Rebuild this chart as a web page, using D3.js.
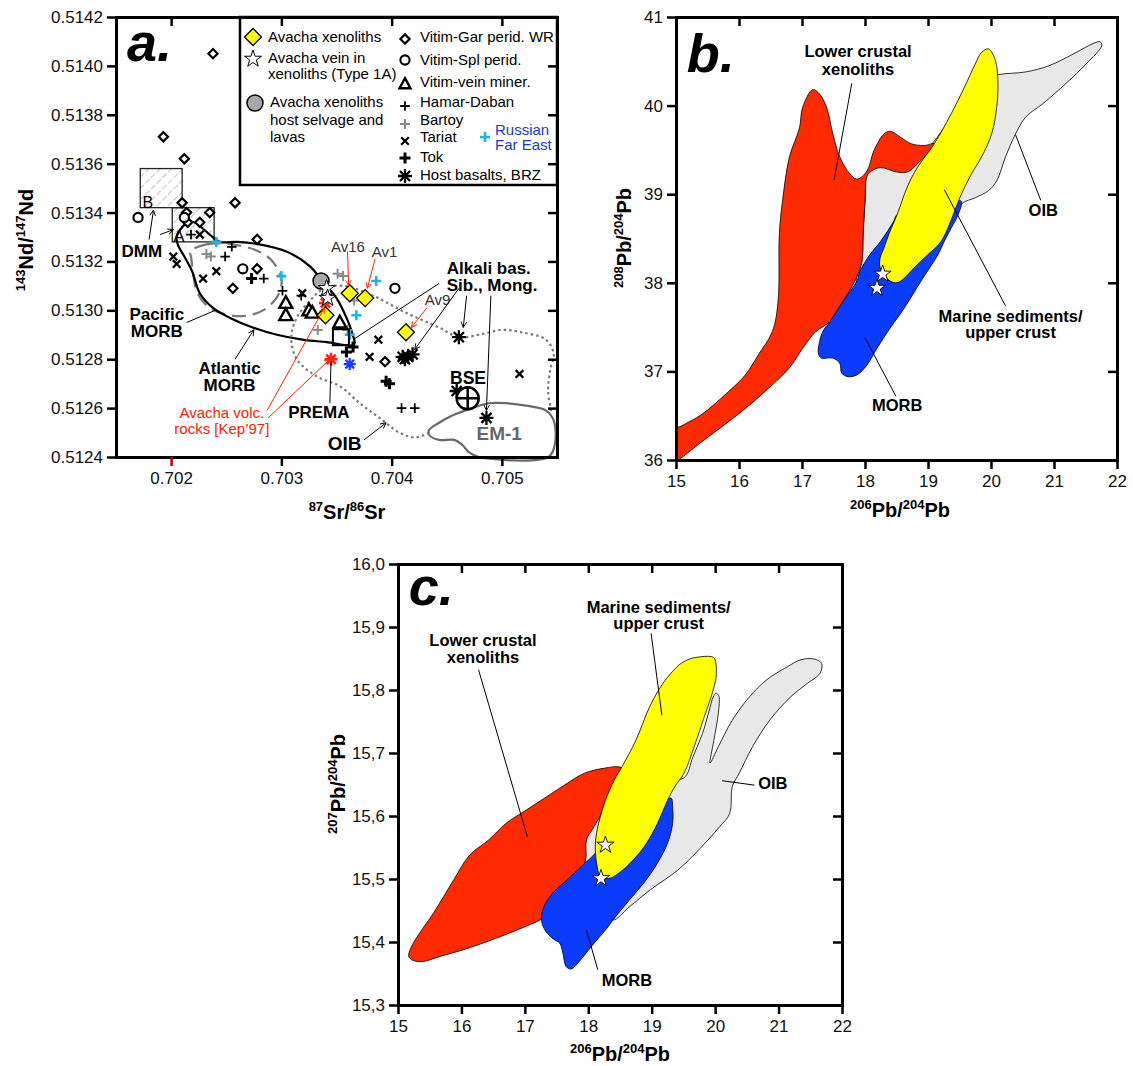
<!DOCTYPE html>
<html><head><meta charset="utf-8">
<script src="https://cdn.jsdelivr.net/npm/d3@7"></script>
<style>body{margin:0;background:#fff}</style>
</head><body><script>
// ---------------- DATA ----------------
const srTicks = [0.702, 0.703, 0.704, 0.705];
const ndTicks = [0.5124, 0.5126, 0.5128, 0.5130, 0.5132, 0.5134, 0.5136, 0.5138, 0.5140, 0.5142];
const pb206Ticks = [15, 16, 17, 18, 19, 20, 21, 22];
const pb208Ticks = [36, 37, 38, 39, 40, 41];
const pb207Ticks = [15.3, 15.4, 15.5, 15.6, 15.7, 15.8, 15.9, 16.0];

// panel a: [87Sr/86Sr, 143Nd/147Nd]
const vitimGar = [[0.70238,0.51405],[0.70193,0.51371],[0.70212,0.51362],[0.70210,0.51344],[0.70258,0.51344],[0.70214,0.51340],[0.70235,0.51340],[0.70226,0.51336],[0.70215,0.51336],[0.70278,0.51329],[0.70278,0.51317],[0.70256,0.51309],[0.70394,0.51279]];
const vitimSpl = [[0.70170,0.51338],[0.70212,0.51338],[0.70265,0.51317],[0.70403,0.51309]];
const vitimVein = [[0.70304,0.51303],[0.70304,0.51298],[0.70325,0.51300],[0.70328,0.51299],[0.70353,0.51295]];
const hamarDaban = [[0.70218,0.51331],[0.70255,0.51326],[0.70249,0.51322],[0.70284,0.51313],[0.70301,0.51308],[0.70318,0.51306],[0.70409,0.51260],[0.70421,0.51260]];
const bartoy = [[0.70232,0.51323],[0.70236,0.51322],[0.70351,0.51315],[0.70356,0.51314],[0.70333,0.51292],[0.70366,0.51304],[0.70360,0.51292]];
const tariat = [[0.70226,0.51331],[0.70202,0.51322],[0.70205,0.51319],[0.70229,0.51313],[0.70241,0.51316],[0.70319,0.51307],[0.70388,0.51288],[0.70380,0.51281],[0.70516,0.51274]];
const tok = [[0.70273,0.51313],[0.70359,0.51283],[0.70365,0.51285],[0.70395,0.51271],[0.70398,0.51270]];
const hostBRZ = [[0.70410,0.51281],[0.70415,0.51281],[0.70419,0.51282],[0.70412,0.51280],[0.70461,0.51289],[0.70459,0.51267],[0.70486,0.51256]];
const farEast = [[0.70241,0.51328],[0.70300,0.51314],[0.70386,0.51312],[0.70368,0.51298],[0.70362,0.51290]];
const farEastAster = [[0.70362,0.51278]];
const avachaXen = [[0.70362,0.51307],[0.70376,0.51305],[0.70340,0.51298],[0.70413,0.51291]];
const avachaHost = [[0.70336,0.51312]];
const avachaVein = [[0.70341,0.51309],[0.70342,0.51305]];
const avachaVolc = [[0.70340,0.51303],[0.70345,0.51280]];
const bsePoint = [[0.70469,0.51264]];
const premaBox = [[0.70354,0.51289]];
const boxA = [[0.70201,0.51328],[0.70239,0.51342]];
const boxB = [[0.70172,0.51342],[0.70210,0.51358]];

const atlanticMORB = [[0.70215,0.51336],[0.70221,0.51336],[0.70235,0.51331],[0.70244,0.51328],[0.70260,0.51328],[0.70280,0.51327],[0.70305,0.51324],[0.70326,0.51318],[0.70337,0.51312],[0.70350,0.51305],[0.70359,0.51297],[0.70364,0.51291],[0.70366,0.51286],[0.70341,0.51287],[0.70319,0.51288],[0.70296,0.51290],[0.70274,0.51293],[0.70253,0.51297],[0.70238,0.51301],[0.70226,0.51307],[0.70219,0.51316],[0.70212,0.51322],[0.70206,0.51327],[0.70205,0.51330],[0.70210,0.51334]];
const pacificMORB = [[0.70217,0.51324],[0.70232,0.51327],[0.70256,0.51327],[0.70280,0.51324],[0.70292,0.51320],[0.70300,0.51313],[0.70298,0.51307],[0.70287,0.51301],[0.70271,0.51298],[0.70253,0.51298],[0.70235,0.51301],[0.70224,0.51307],[0.70220,0.51315],[0.70218,0.51322]];
const oibField = [[0.70434,0.51250],[0.70422,0.51248],[0.70407,0.51250],[0.70389,0.51256],[0.70371,0.51262],[0.70353,0.51269],[0.70332,0.51273],[0.70314,0.51280],[0.70309,0.51289],[0.70314,0.51297],[0.70326,0.51304],[0.70339,0.51309],[0.70357,0.51310],[0.70383,0.51306],[0.70413,0.51299],[0.70443,0.51293],[0.70461,0.51289],[0.70479,0.51290],[0.70500,0.51292],[0.70518,0.51291],[0.70540,0.51288],[0.70547,0.51282],[0.70544,0.51276],[0.70542,0.51267],[0.70545,0.51258]];
const em1Field = [[0.70434,0.51251],[0.70443,0.51254],[0.70455,0.51257],[0.70473,0.51260],[0.70488,0.51262],[0.70504,0.51262],[0.70522,0.51261],[0.70540,0.51259],[0.70547,0.51255],[0.70548,0.51245],[0.70542,0.51240],[0.70479,0.51240],[0.70470,0.51242],[0.70464,0.51245],[0.70457,0.51247],[0.70443,0.51247],[0.70434,0.51249]];

// panel b: [206Pb/204Pb, 208Pb/204Pb]
const oibB = [[18.03,39.23],[18.24,39.32],[18.51,39.3],[18.67,39.3],[18.83,39.4],[19.1,39.6],[19.5,40.0],[19.9,40.3],[20.12,40.35],[20.55,40.38],[20.92,40.45],[21.3,40.58],[21.62,40.7],[21.73,40.72],[21.76,40.68],[21.51,40.47],[21.19,40.25],[20.82,40.02],[20.55,39.87],[20.39,39.68],[20.23,39.42],[20.09,39.15],[19.96,39.04],[19.75,38.96],[19.53,38.89],[19.0,38.4],[18.3,37.9],[17.87,38.0],[17.95,38.24],[17.97,38.55],[18.0,38.92]];
const crustB = [[17.17,40.18],[17.28,40.13],[17.39,39.98],[17.49,39.68],[17.6,39.42],[17.76,39.23],[17.87,39.17],[18.03,39.26],[18.14,39.49],[18.3,39.68],[18.4,39.71],[18.57,39.64],[18.73,39.57],[18.94,39.55],[19.1,39.57],[18.83,39.34],[18.67,39.25],[18.51,39.25],[18.24,39.3],[18.08,39.25],[18.03,39.2],[18.0,38.92],[17.97,38.55],[17.95,38.24],[17.84,38.02],[17.65,37.79],[17.44,37.56],[17.22,37.45],[17.01,37.26],[16.8,37.04],[16.47,36.81],[16.1,36.58],[15.83,36.43],[15.4,36.2],[15.08,36.02],[14.95,35.95],[14.95,36.32],[15.13,36.4],[15.4,36.51],[15.83,36.77],[16.1,36.96],[16.31,37.19],[16.53,37.45],[16.62,37.79],[16.64,38.55],[16.69,38.92],[16.8,39.42],[16.96,39.75],[17.01,39.98]];
const morbB = [[17.28,37.34],[17.33,37.45],[17.44,37.56],[17.65,37.79],[17.87,38.02],[17.92,38.13],[18.08,38.32],[18.25,38.47],[18.46,38.7],[18.51,38.77],[19.0,38.9],[19.45,38.93],[19.53,38.92],[19.48,38.77],[19.37,38.62],[19.26,38.47],[19.16,38.32],[18.89,38.02],[18.62,37.71],[18.4,37.49],[18.19,37.26],[18.03,37.07],[17.87,36.96],[17.73,36.94],[17.63,36.98],[17.6,37.09],[17.49,37.15],[17.31,37.15],[17.26,37.2]];
const sedB = [[19.96,40.64],[20.07,40.51],[20.11,40.25],[20.09,39.98],[20.01,39.68],[19.85,39.42],[19.69,39.23],[19.53,39.0],[19.21,38.47],[19.0,38.32],[18.78,38.17],[18.62,38.05],[18.51,38.0],[18.4,38.02],[18.32,38.07],[18.24,38.17],[18.24,38.28],[18.3,38.39],[18.38,38.55],[18.51,38.77],[18.67,39.08],[18.83,39.3],[19.1,39.57],[19.37,39.91],[19.58,40.21],[19.75,40.47],[19.85,40.6]];
const veinB = [[18.28,38.1],[18.19,37.94]];

// panel c: [206Pb/204Pb, 207Pb/204Pb]
const oibC = [[17.95,15.53],[17.97,15.565],[18.1,15.59],[18.3,15.63],[18.9,15.66],[19.5,15.66],[19.65,15.694],[19.8,15.731],[19.9,15.765],[19.97,15.789],[20.02,15.795],[20.06,15.79],[20.05,15.763],[19.98,15.72],[19.92,15.684],[20.05,15.71],[20.27,15.752],[20.54,15.789],[20.81,15.816],[21.14,15.837],[21.35,15.848],[21.57,15.849],[21.68,15.842],[21.65,15.826],[21.46,15.811],[21.19,15.789],[20.86,15.752],[20.59,15.71],[20.38,15.668],[20.27,15.647],[20.23,15.604],[20.07,15.583],[19.74,15.546],[19.41,15.514],[18.98,15.483],[18.65,15.456],[18.38,15.435],[18.1,15.47]];
const crustC = [[15.17,15.377],[15.2,15.39],[15.34,15.414],[15.56,15.446],[15.88,15.499],[16.13,15.538],[16.43,15.562],[16.7,15.588],[17.03,15.61],[17.35,15.631],[17.67,15.652],[17.94,15.668],[18.26,15.676],[18.48,15.678],[18.6,15.672],[18.41,15.64],[18.19,15.6],[18.06,15.578],[17.97,15.562],[17.95,15.527],[17.7,15.49],[17.3,15.44],[17.24,15.435],[17.02,15.425],[16.47,15.403],[16.04,15.388],[15.66,15.377],[15.39,15.369],[15.23,15.371]];
const morbC = [[19.31,15.628],[19.33,15.615],[19.33,15.588],[19.25,15.557],[19.09,15.525],[18.87,15.493],[18.65,15.467],[18.43,15.44],[18.27,15.419],[18.05,15.393],[17.84,15.367],[17.73,15.357],[17.65,15.361],[17.6,15.382],[17.55,15.398],[17.46,15.404],[17.35,15.414],[17.27,15.43],[17.27,15.446],[17.33,15.462],[17.46,15.48],[17.67,15.499],[17.89,15.52],[18.11,15.541],[18.16,15.551],[18.38,15.578],[18.92,15.615],[19.25,15.628]];
const sedC = [[19.46,15.842],[19.62,15.85],[19.94,15.853],[19.99,15.85],[20.02,15.826],[19.97,15.8],[19.83,15.758],[19.67,15.71],[19.51,15.668],[19.36,15.646],[19.25,15.625],[19.09,15.588],[18.92,15.557],[18.76,15.536],[18.54,15.514],[18.33,15.501],[18.19,15.504],[18.14,15.52],[18.11,15.551],[18.14,15.578],[18.19,15.599],[18.27,15.625],[18.41,15.657],[18.53,15.678],[18.75,15.72],[18.97,15.774],[19.18,15.811],[19.4,15.837]];
const veinC = [[18.27,15.554],[18.2,15.501]];

// annotations (data units)
const labelsA = [
  {t:["B"], x:0.70174, y:0.51342, a:"start", s:16, w:"normal"},
  {t:["A"], x:0.70202, y:0.51328, a:"start", s:17, w:"normal"},
  {t:["DMM"], x:0.70155, y:0.51322, a:"start", s:17, w:"bold"},
  {t:["Pacific","MORB"], x:0.70187, y:0.51296, a:"middle", s:17, w:"bold", lh:17},
  {t:["Atlantic","MORB"], x:0.70253, y:0.51274, a:"middle", s:17, w:"bold", lh:17},
  {t:["Avacha volc.","rocks [Kep\u201997]"], x:0.70246, y:0.51256, a:"middle", s:15, w:"normal", c:"#ff2200", lh:16},
  {t:["PREMA"], x:0.70334, y:0.51256, a:"middle", s:17, w:"bold"},
  {t:["OIB"], x:0.70342, y:0.51243, a:"start", s:19, w:"bold"},
  {t:["Av16"], x:0.70345, y:0.51324, a:"start", s:15, w:"normal", c:"#333"},
  {t:["Av1"], x:0.70382, y:0.51322, a:"start", s:15, w:"normal", c:"#333"},
  {t:["Av9"], x:0.70430, y:0.51302, a:"start", s:15, w:"normal", c:"#333"},
  {t:["Alkali bas.","Sib., Mong."], x:0.70450, y:0.51315, a:"start", s:17, w:"bold", lh:17},
  {t:["BSE"], x:0.70453, y:0.51270, a:"start", s:17.5, w:"bold"},
  {t:["EM-1"], x:0.70477, y:0.51247, a:"start", s:19, w:"bold", c:"#666"}
];
const leadersA = [
  {p:[[0.70180,0.51329],[0.70184,0.51341]], c:"#000", arrow:true},
  {p:[[0.70190,0.51331],[0.70202,0.51333]], c:"#000", arrow:true},
  {p:[[0.70214,0.51295],[0.70240,0.51300]], c:"#000", arrow:false},
  {p:[[0.70258,0.51280],[0.70275,0.51292]], c:"#000", arrow:true},
  {p:[[0.70287,0.51259],[0.70339,0.51301]], c:"#ff2200", arrow:true},
  {p:[[0.70288,0.51256],[0.70344,0.51280]], c:"#ff2200", arrow:true},
  {p:[[0.70344,0.51262],[0.70345,0.51279]], c:"#000", arrow:false},
  {p:[[0.70375,0.51247],[0.70395,0.51254]], c:"#000", arrow:true},
  {p:[[0.70360,0.51324],[0.70361,0.51310]], c:"#ff2200", arrow:true},
  {p:[[0.70385,0.51321],[0.70378,0.51309]], c:"#ff2200", arrow:true},
  {p:[[0.70432,0.51301],[0.70418,0.51293]], c:"#ff2200", arrow:true},
  {p:[[0.70443,0.51311],[0.70365,0.51288]], c:"#000", arrow:false},
  {p:[[0.70461,0.51309],[0.70421,0.51284]], c:"#000", arrow:true},
  {p:[[0.70468,0.51306],[0.70465,0.51293]], c:"#000", arrow:true},
  {p:[[0.70490,0.51306],[0.70486,0.51259]], c:"#000", arrow:true}
];
const labelsB = [
  {t:["Lower crustal","xenoliths"], x:17.89, y:40.55, lh:18},
  {t:["OIB"], x:20.83, y:38.75},
  {t:["Marine sediments/","upper crust"], x:20.31, y:37.56, lh:16},
  {t:["MORB"], x:18.51, y:36.55}
];
const leadersB = [[[17.79,40.25],[17.51,39.16]],[[20.39,39.67],[20.79,38.93]],[[19.26,39.05],[20.23,37.74]],[[18.0,37.38],[18.49,36.72]]];
const labelsC = [
  {t:["Marine sediments/","upper crust"], x:19.11, y:15.922, lh:16},
  {t:["Lower crustal","xenoliths"], x:16.34, y:15.870, lh:17.5},
  {t:["OIB"], x:20.91, y:15.643},
  {t:["MORB"], x:18.61, y:15.33}
];
const leadersC = [[[18.99,15.89],[19.16,15.76]],[[16.27,15.832],[17.04,15.567]],[[20.11,15.656],[20.62,15.649]],[[17.97,15.419],[18.15,15.356]]];

// ---------------- DRAWING ----------------
const FONT = "Liberation Sans, Arial, sans-serif";
const W = 1133, H = 1066;
const svg = d3.select("body").append("svg").attr("width", W).attr("height", H)
  .style("display","block").attr("font-family", FONT);
svg.append("rect").attr("width", W).attr("height", H).attr("fill", "#fff");

const xa = d3.scaleLinear().domain([0.7015, 0.7055]).range([116, 557]);
const ya = d3.scaleLinear().domain([0.5124, 0.5142]).range([457, 17]);
const xb = d3.scaleLinear().domain([15, 22]).range([676, 1117]);
const yb = d3.scaleLinear().domain([36, 41]).range([460, 17]);
const xc = d3.scaleLinear().domain([15, 22]).range([398, 842]);
const yc = d3.scaleLinear().domain([15.3, 16.0]).range([1005, 564]);

const defs = svg.append("defs");
defs.append("pattern").attr("id","hatch").attr("patternUnits","userSpaceOnUse")
  .attr("width",8).attr("height",8).attr("patternTransform","rotate(45)")
  .append("line").attr("x1",0).attr("y1",0).attr("x2",0).attr("y2",8)
  .attr("stroke","#888").attr("stroke-width",1).attr("stroke-dasharray","3,2");
[["arrK","#000"],["arrR","#ff2200"]].forEach(([id,c]) => {
  defs.append("marker").attr("id",id).attr("viewBox","0 0 10 10").attr("refX",9).attr("refY",5)
    .attr("markerWidth",7).attr("markerHeight",7).attr("orient","auto").attr("markerUnits","userSpaceOnUse")
    .append("path").attr("d","M1,1L9,5L1,9").attr("fill","none").attr("stroke",c).attr("stroke-width",1.3);
});
[["clipB",xb,yb],["clipC",xc,yc]].forEach(([id,x,y]) => {
  defs.append("clipPath").attr("id",id).append("rect")
    .attr("x",x.range()[0]).attr("y",y.range()[1])
    .attr("width",x.range()[1]-x.range()[0]).attr("height",y.range()[0]-y.range()[1]);
});

// symbol paths
const P = {
  diamond: r => `M0,${-r}L${r},0L0,${r}L${-r},0Z`,
  plus: r => `M${-r},0H${r}M0,${-r}V${r}`,
  cross: r => `M${-r},${-r}L${r},${r}M${-r},${r}L${r},${-r}`,
  aster: r => { const d = r*0.72; return `M${-r},0H${r}M0,${-r}V${r}M${-d},${-d}L${d},${d}M${-d},${d}L${d},${-d}`; },
  tri: r => `M0,${-r}L${r*0.95},${r*0.72}L${-r*0.95},${r*0.72}Z`,
  circle: r => d3.symbol(d3.symbolCircle, Math.PI*r*r)(),
  star: r => d3.symbol(d3.symbolStar, r*r/0.8908130915292852)()
};
const styles = {
  vitimGar:  {p:P.diamond(4.6), fill:"#fff", stroke:"#000", sw:2.2},
  vitimSpl:  {p:P.circle(4.6), fill:"#fff", stroke:"#000", sw:2.1},
  vitimVein: {p:P.tri(6.8), fill:"#fff", stroke:"#000", sw:2.4},
  hamar:     {p:P.plus(4.8), fill:"none", stroke:"#000", sw:1.8},
  bartoy:    {p:P.plus(5), fill:"none", stroke:"#8a8a8a", sw:2},
  tariat:    {p:P.cross(3.8), fill:"none", stroke:"#000", sw:2.3},
  tok:       {p:P.plus(5.5), fill:"none", stroke:"#000", sw:3},
  brz:       {p:P.aster(7), fill:"none", stroke:"#000", sw:2.3},
  farEast:   {p:P.plus(5), fill:"none", stroke:"#1cb4ea", sw:2.6},
  farEastA:  {p:P.aster(6), fill:"none", stroke:"#1a3cff", sw:2.3},
  avXen:     {p:P.diamond(8.5), fill:"#ffff00", stroke:"#000", sw:1.3},
  avHost:    {p:P.circle(8), fill:"#a8a8a8", stroke:"#000", sw:1.5},
  avVein:    {p:P.star(9), fill:"#fff", stroke:"#000", sw:1},
  avVolc:    {p:P.aster(6.5), fill:"none", stroke:"#ff2200", sw:2.4}
};
function points(g, data, st, x, y) {
  g.selectAll(null).data(data).join("path")
    .attr("transform", d => `translate(${x(d[0])},${y(d[1])})`)
    .attr("d", st.p).attr("fill", st.fill).attr("stroke", st.stroke).attr("stroke-width", st.sw)
    .attr("stroke-linejoin","miter");
}
function labels(g, data, x, y, defaults) {
  data.forEach(d => {
    const o = Object.assign({}, defaults, d);
    const t = g.append("text").attr("x", x(o.x)).attr("y", y(o.y)).attr("text-anchor", o.a)
      .attr("font-size", o.s).attr("font-weight", o.w).attr("fill", o.c || "#000");
    o.t.forEach((s, i) => t.append("tspan").attr("x", x(o.x)).attr("dy", i ? (o.lh || o.s) : 0).text(s));
  });
}
function leaders(g, data, x, y) {
  data.forEach(d => {
    const pts = d.p || d;
    const c = d.c || "#000";
    const l = g.append("line").attr("x1", x(pts[0][0])).attr("y1", y(pts[0][1]))
      .attr("x2", x(pts[1][0])).attr("y2", y(pts[1][1])).attr("stroke", c).attr("stroke-width", 1);
    if (d.arrow) l.attr("marker-end", c === "#000" ? "url(#arrK)" : "url(#arrR)");
  });
}
function axes(x, y, xt, yt, fx, fy) {
  const [x0, x1] = x.range(), [y0, y1] = y.range();
  const gs = [
    svg.append("g").attr("transform", `translate(0,${y0})`).call(d3.axisBottom(x).tickValues(xt).tickFormat(fx).tickSize(9).tickSizeOuter(0).tickPadding(6)),
    svg.append("g").attr("transform", `translate(0,${y1})`).call(d3.axisTop(x).tickValues(xt).tickFormat(() => "").tickSize(-9).tickSizeOuter(0)),
    svg.append("g").attr("transform", `translate(${x0},0)`).call(d3.axisLeft(y).tickValues(yt).tickFormat(fy).tickSize(9).tickSizeOuter(0).tickPadding(4)),
    svg.append("g").attr("transform", `translate(${x1},0)`).call(d3.axisRight(y).tickValues(yt).tickFormat(() => "").tickSize(-9).tickSizeOuter(0))
  ];
  gs.forEach(g => {
    g.attr("font-size", 17).attr("font-family", FONT);
    g.select(".domain").attr("stroke-width", 3).attr("stroke-linecap", "square");
    g.selectAll(".tick line").attr("stroke-width", 2.5);
    g.selectAll(".tick text").attr("fill", "#111");
  });
  return gs;
}
function title(x, y, parts, rot) {
  const t = svg.append("text").attr("transform", `translate(${x},${y})` + (rot ? " rotate(-90)" : ""))
    .attr("text-anchor", "middle").attr("font-weight", "bold").attr("font-size", 20).attr("fill","#000");
  parts.forEach(([s, sup], i) => {
    const ts = t.append("tspan").text(s);
    if (sup) ts.attr("font-size", 13).attr("dy", -8);
    else if (i > 0 && parts[i-1][1]) ts.attr("dy", 8);
  });
}
function panelLetter(txt, x, y) {
  svg.append("text").attr("x", x).attr("y", y).attr("font-size", 54).attr("font-weight", "bold")
    .attr("font-style", "italic").attr("fill", "#000").text(txt);
}

// ===== Panel a =====
const ga = svg.append("g");
[boxB, boxA].forEach(b => {
  ga.append("rect").attr("x", xa(b[0][0])).attr("y", ya(b[1][1]))
    .attr("width", xa(b[1][0]) - xa(b[0][0])).attr("height", ya(b[0][1]) - ya(b[1][1]))
    .attr("fill", "url(#hatch)").attr("stroke", "#222").attr("stroke-width", 1.3);
});
const closedA = d3.line().x(d => xa(d[0])).y(d => ya(d[1])).curve(d3.curveCatmullRomClosed.alpha(0.5));
const openA = d3.line().x(d => xa(d[0])).y(d => ya(d[1])).curve(d3.curveCatmullRom.alpha(0.5));
ga.append("path").attr("d", closedA(pacificMORB)).attr("fill","none").attr("stroke","#7a7a7a").attr("stroke-width",2.3).attr("stroke-dasharray","14,7");
ga.append("path").attr("d", closedA(atlanticMORB)).attr("fill","none").attr("stroke","#000").attr("stroke-width",2.2);
ga.append("path").attr("d", openA(oibField)).attr("fill","none").attr("stroke","#7a7a7a").attr("stroke-width",2.2).attr("stroke-dasharray","2.5,3");
ga.append("path").attr("d", closedA(em1Field)).attr("fill","none").attr("stroke","#6a6a6a").attr("stroke-width",2.2);

points(ga, vitimGar, styles.vitimGar, xa, ya);
points(ga, vitimSpl, styles.vitimSpl, xa, ya);
points(ga, tariat, styles.tariat, xa, ya);
points(ga, hamarDaban, styles.hamar, xa, ya);
points(ga, bartoy, styles.bartoy, xa, ya);
points(ga, tok, styles.tok, xa, ya);
points(ga, farEast, styles.farEast, xa, ya);
points(ga, vitimVein, styles.vitimVein, xa, ya);
points(ga, hostBRZ, styles.brz, xa, ya);
points(ga, farEastAster, styles.farEastA, xa, ya);
points(ga, avachaVolc, styles.avVolc, xa, ya);
points(ga, avachaHost, styles.avHost, xa, ya);
points(ga, avachaVein, styles.avVein, xa, ya);
points(ga, avachaXen, styles.avXen, xa, ya);
// PREMA box
ga.selectAll(null).data(premaBox).join("rect")
  .attr("x", d => xa(d[0]) - 8).attr("y", d => ya(d[1]) - 8).attr("width", 16).attr("height", 16)
  .attr("fill", "none").attr("stroke", "#000").attr("stroke-width", 2);
// BSE
bsePoint.forEach(d => {
  const cx = xa(d[0]), cy = ya(d[1]);
  ga.append("circle").attr("cx", cx).attr("cy", cy).attr("r", 11).attr("fill", "#fff").attr("stroke", "#000").attr("stroke-width", 2.5);
  ga.append("path").attr("d", `M${cx-11},${cy}H${cx+11}M${cx},${cy-11}V${cy+11}`).attr("stroke", "#000").attr("stroke-width", 2.5);
});
leaders(ga, leadersA, xa, ya);
labels(ga, labelsA, xa, ya, {});
panelLetter("a.", xa(0.70160), ya(0.51402));

// legend (panel a)
const lg = svg.append("g").attr("transform", "translate(240,17)");
lg.append("rect").attr("x", 0).attr("y", 0).attr("width", 317).attr("height", 168).attr("fill", "#fff").attr("stroke", "#000").attr("stroke-width", 2.5);
const legSym = (st, x, y) => lg.append("path").attr("transform", `translate(${x},${y})`).attr("d", st.p)
  .attr("fill", st.fill).attr("stroke", st.stroke).attr("stroke-width", st.sw);
const legTxt = (lines, x, y, lh, c) => {
  const t = lg.append("text").attr("x", x).attr("y", y).attr("font-size", 15).attr("fill", c || "#000");
  lines.forEach((s, i) => t.append("tspan").attr("x", x).attr("dy", i ? lh : 0).text(s));
};
legSym(styles.avXen, 13, 20);   legTxt(["Avacha xenoliths"], 28, 25, 0);
legSym(styles.avVein, 13, 42);  legTxt(["Avacha vein in", "xenoliths (Type 1A)"], 28, 46, 15.5);
legSym(styles.avHost, 15, 86);  legTxt(["Avacha xenoliths", "host selvage and", "lavas"], 30, 90, 17.5);
const rightLeg = [
  [styles.vitimGar, 22, "Vitim-Gar perid. WR", 25],
  [styles.vitimSpl, 43, "Vitim-Spl perid.", 48],
  [{...styles.vitimVein, p: P.tri(5.8)}, 67, "Vitim-vein miner.", 70],
  [styles.hamar, 89, "Hamar-Daban", 90],
  [styles.bartoy, 107, "Bartoy", 108],
  [styles.tariat, 124, "Tariat", 125],
  [styles.tok, 141, "Tok", 145],
  [styles.brz, 159, "Host basalts, BRZ", 163]
];
rightLeg.forEach(([st, sy, txt, ty]) => { legSym(st, 165, sy); legTxt([txt], 180, ty, 0); });
legSym(styles.farEast, 245, 120);
legTxt(["Russian", "Far East"], 255, 118, 15, "#1a3cc8");

const axA = axes(xa, ya, srTicks, ndTicks, d3.format(".3f"), d3.format(".4f"));
axA[0].selectAll(".tick").filter(d => d === 0.702).select("line").attr("stroke", "#c00000");
title(347, 519, [["87",1],["Sr/",0],["86",1],["Sr",0]]);
title(33, 240, [["143",1],["Nd/",0],["147",1],["Nd",0]], true);

// ===== Panel b =====
const gb = svg.append("g").attr("clip-path", "url(#clipB)");
const closedB = d3.line().x(d => xb(d[0])).y(d => yb(d[1])).curve(d3.curveCatmullRomClosed.alpha(0.5));
gb.append("path").attr("d", closedB(oibB)).attr("fill", "#e8e8e8").attr("stroke", "#000").attr("stroke-width", 0.8);
gb.append("path").attr("d", closedB(crustB)).attr("fill", "#ff2a00").attr("stroke", "#000").attr("stroke-width", 0.8);
gb.append("path").attr("d", closedB(morbB)).attr("fill", "#0a3cff").attr("stroke", "#000").attr("stroke-width", 0.8);
gb.append("path").attr("d", closedB(sedB)).attr("fill", "#ffff00").attr("stroke", "#000").attr("stroke-width", 0.8);
points(gb, veinB, {p:P.star(9), fill:"#fff", stroke:"#000", sw:0.9}, xb, yb);
leaders(svg, leadersB, xb, yb);
labels(svg, labelsB, xb, yb, {a:"middle", s:16.5, w:"bold"});
panelLetter("b.", xb(15.17), yb(40.38));
axes(xb, yb, pb206Ticks, pb208Ticks, d3.format("d"), d3.format("d"));
title(900, 517, [["206",1],["Pb/",0],["204",1],["Pb",0]]);
title(631, 238, [["208",1],["Pb/",0],["204",1],["Pb",0]], true);

// ===== Panel c =====
const gc = svg.append("g").attr("clip-path", "url(#clipC)");
const closedC = d3.line().x(d => xc(d[0])).y(d => yc(d[1])).curve(d3.curveCatmullRomClosed.alpha(0.5));
gc.append("path").attr("d", closedC(oibC)).attr("fill", "#e8e8e8").attr("stroke", "#000").attr("stroke-width", 0.8);
gc.append("path").attr("d", closedC(crustC)).attr("fill", "#ff2a00").attr("stroke", "#000").attr("stroke-width", 0.8);
gc.append("path").attr("d", closedC(morbC)).attr("fill", "#0a3cff").attr("stroke", "#000").attr("stroke-width", 0.8);
gc.append("path").attr("d", closedC(sedC)).attr("fill", "#ffff00").attr("stroke", "#000").attr("stroke-width", 0.8);
points(gc, veinC, {p:P.star(9), fill:"#fff", stroke:"#000", sw:0.9}, xc, yc);
leaders(svg, leadersC, xc, yc);
labels(svg, labelsC, xc, yc, {a:"middle", s:16.5, w:"bold"});
panelLetter("c.", xc(15.17), yc(15.935));
axes(xc, yc, pb206Ticks, pb207Ticks, d3.format("d"), d => d.toFixed(1).replace(".", ","));
title(620, 1061, [["206",1],["Pb/",0],["204",1],["Pb",0]]);
title(345, 784, [["207",1],["Pb/",0],["204",1],["Pb",0]], true);
</script></body></html>
